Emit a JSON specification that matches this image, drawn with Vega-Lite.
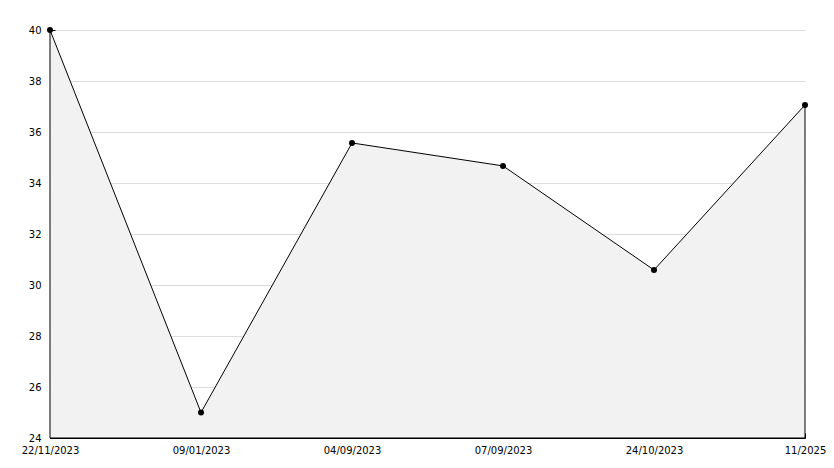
{
  "$schema": "https://vega.github.io/schema/vega-lite/v6.json",
  "width": 755,
  "height": 408,
  "autosize": "none",
  "padding": {"left": 50, "top": 30, "right": 29, "bottom": 30},
  "background": "white",
  "config": {
    "view": {"stroke": null},
    "axis": {"labelFont": "DejaVu Sans", "labelFontSize": 10, "labelColor": "black", "domainColor": "black", "tickColor": "black", "title": null}
  },
  "data": {
    "values": [
      {"date": "22/11/2023", "value": 40.0},
      {"date": "09/01/2023", "value": 25.0},
      {"date": "04/09/2023", "value": 35.57},
      {"date": "07/09/2023", "value": 34.67},
      {"date": "24/10/2023", "value": 30.59},
      {"date": "11/2025", "value": 37.06}
    ]
  },
  "encoding": {
    "x": {
      "field": "date", "type": "ordinal", "sort": null,
      "scale": {"type": "point", "padding": 0},
      "axis": {"labelAngle": 0, "grid": false, "tickSize": -5, "labelPadding": 12, "labelBaseline": "top"}
    },
    "y": {
      "field": "value", "type": "quantitative",
      "scale": {"domain": [24, 40], "zero": false, "nice": false},
      "axis": {
        "values": [24,25,26,27,28,29,30,31,32,33,34,35,36,37,38,39,40],
        "labelExpr": "datum.value % 2 === 0 ? datum.label : ''",
        "tickSize": {"condition": {"test": "datum.value % 2 === 0", "value": -5}, "value": -3},
        "grid": true,
        "gridColor": "#dcdcdc",
        "gridOpacity": {"condition": {"test": "datum.value % 2 === 0", "value": 1}, "value": 0},
        "labelPadding": 14,
        "domainColor": "black"
      }
    }
  },
  "layer": [
    {"mark": {"type": "area", "fill": "#f2f2f2", "stroke": "black", "strokeWidth": 1, "fillOpacity": 1}, "encoding": {"y2": {"datum": 24}}},
    {"mark": {"type": "point", "filled": true, "color": "black", "size": 36, "opacity": 1}}
  ]
}
